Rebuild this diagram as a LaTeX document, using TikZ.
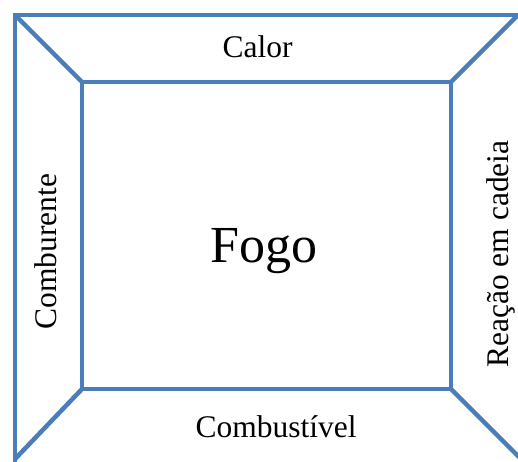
\documentclass[tikz,border=0pt]{standalone}
\usepackage{fontspec}
\setmainfont{Liberation Serif}
\definecolor{frameblue}{RGB}{74,126,187}
\begin{document}
\begin{tikzpicture}[x=1pt,y=-1pt,
  frameline/.style={draw=frameblue,line width=4.5pt,line join=miter},
  lbl/.style={inner sep=0pt,anchor=base,font=\fontsize{31.5}{36}\selectfont},
  big/.style={inner sep=0pt,anchor=base,font=\fontsize{52}{60}\selectfont}]
\useasboundingbox (0,0) rectangle (518,461);
% corners
\coordinate (o1) at (15,15);
\coordinate (o2) at (518,15);
\coordinate (o3) at (518,456);
\coordinate (o4) at (15,459);
\coordinate (i1) at (82,82);
\coordinate (i2) at (451,82);
\coordinate (i3) at (451,389);
\coordinate (i4) at (82,389);
\begin{scope}
\clip (0,0) rectangle (518,461);
\draw[frameline] (15,465) -- (o1) -- (522,15);
\draw[frameline] (i1) rectangle (i3);
\draw[frameline] (o1) -- (i1);
\draw[frameline] (o2) -- (i2);
\draw[frameline] (i3) -- (522,460);
\draw[frameline] (i4) -- (o4);
\end{scope}
\node[lbl] (calor) at (257.5,57.5) {Calor};
\node[big] (fogo) at (264,262) {Fogo};
\node[lbl] (combustivel) at (276,437) {Combustível};
\node[lbl,rotate=90] (comburente) at (56,251.5) {Comburente};
\node[lbl,rotate=90] (reacao) at (508,254) {Reação em cadeia};
\end{tikzpicture}
\end{document}
